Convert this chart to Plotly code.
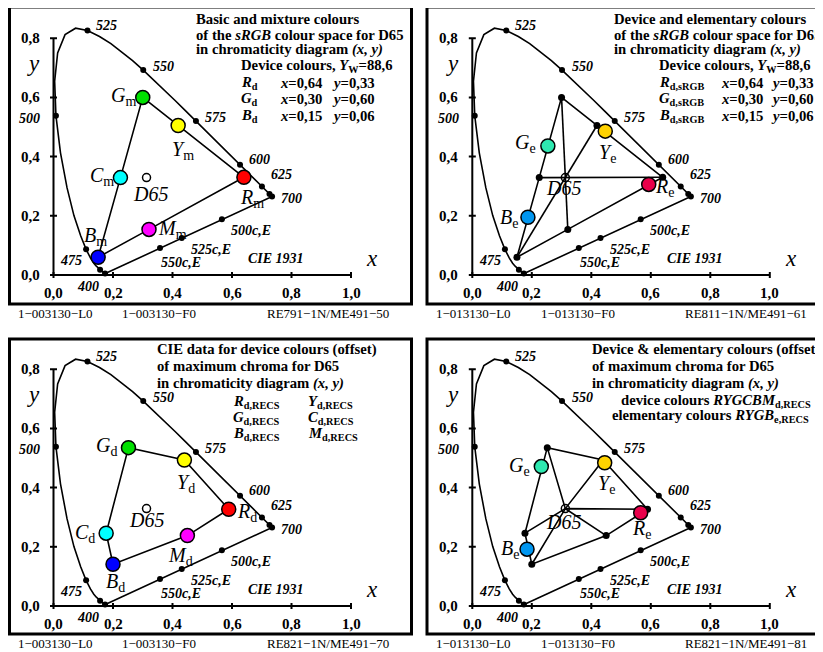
import plotly.graph_objects as go

# The page body has an 8px default margin, so the figure is offset on screen.
OFF = 8
WS, HS = 823, 652                 # screen size
W, H = WS - OFF, HS - OFF         # figure size
SX, SY = 297.5, 296.0
FONT = "Liberation Serif"
TS = 14.7                          # title text size

# ---------------- data ----------------
wavelengths = [380, 385, 390, 395, 400, 405, 410, 415, 420, 425, 430, 435, 440, 445, 450,
               455, 460, 465, 470, 475, 480, 485, 490, 495, 500, 505, 510, 515, 520, 525,
               530, 535, 540, 545, 550, 555, 560, 565, 570, 575, 580, 585, 590, 595, 600,
               605, 610, 615, 620, 625, 630, 635, 640, 645, 650, 655, 660, 665, 670, 675,
               680, 685, 690, 695, 700]
locus_x = [0.1741, 0.1740, 0.1738, 0.1736, 0.1733, 0.1730, 0.1726, 0.1721, 0.1714, 0.1703,
           0.1689, 0.1669, 0.1644, 0.1611, 0.1566, 0.1510, 0.1440, 0.1355, 0.1241, 0.1096,
           0.0913, 0.0687, 0.0454, 0.0235, 0.0082, 0.0039, 0.0139, 0.0389, 0.0743, 0.1142,
           0.1547, 0.1929, 0.2296, 0.2658, 0.3016, 0.3373, 0.3731, 0.4087, 0.4441, 0.4788,
           0.5125, 0.5448, 0.5752, 0.6029, 0.6270, 0.6482, 0.6658, 0.6801, 0.6915, 0.7006,
           0.7079, 0.7140, 0.7190, 0.7230, 0.7260, 0.7283, 0.7300, 0.7311, 0.7320, 0.7327,
           0.7334, 0.7340, 0.7344, 0.7346, 0.7347]
locus_y = [0.0050, 0.0050, 0.0049, 0.0049, 0.0048, 0.0048, 0.0048, 0.0048, 0.0051, 0.0058,
           0.0069, 0.0086, 0.0109, 0.0138, 0.0177, 0.0227, 0.0297, 0.0399, 0.0578, 0.0868,
           0.1327, 0.2007, 0.2950, 0.4127, 0.5384, 0.6548, 0.7502, 0.8120, 0.8338, 0.8262,
           0.8059, 0.7816, 0.7543, 0.7243, 0.6923, 0.6589, 0.6245, 0.5896, 0.5547, 0.5202,
           0.4866, 0.4544, 0.4242, 0.3965, 0.3725, 0.3514, 0.3340, 0.3197, 0.3083, 0.2993,
           0.2920, 0.2859, 0.2809, 0.2770, 0.2740, 0.2717, 0.2700, 0.2689, 0.2680, 0.2673,
           0.2666, 0.2660, 0.2656, 0.2654, 0.2653]
dot_wl = [400, 450, 475, 500, 525, 550, 575, 600, 625, 650, 700]
label_wl = [525, 550, 575, 600, 625, 700, 500, 475, 400]

compl_labels = ["500c,E", "525c,E", "550c,E"]
compl_x = [0.566, 0.431, 0.358]
compl_y = [0.188, 0.125, 0.091]

x_ticks = [0.0, 0.2, 0.4, 0.6, 0.8, 1.0]
x_tick_text = ["0,0", "0,2", "0,4", "0,6", "0,8", "1,0"]
y_ticks = [0.0, 0.2, 0.4, 0.6, 0.8]
y_tick_text = ["0,0", "0,2", "0,4", "0,6", "0,8"]

d65_x, d65_y = 0.3127, 0.3290

# order: R, Y, G, C, B, M
hue_names = ["R", "Y", "G", "C", "B", "M"]
srgb_x = [0.640, 0.419, 0.300, 0.225, 0.150, 0.321]
srgb_y = [0.330, 0.505, 0.600, 0.329, 0.060, 0.154]
recs_x = [0.589, 0.440, 0.252, 0.177, 0.200, 0.450]
recs_y = [0.327, 0.493, 0.535, 0.246, 0.141, 0.238]
device_colors = ["#ff0000", "#ffff00", "#00e000", "#00ffff", "#0000ff", "#ff00ff"]

# elementary: R, Y, G, B
elem_names = ["R", "Y", "G", "B"]
elem_srgb_x = [0.593, 0.447, 0.254, 0.187]
elem_srgb_y = [0.306, 0.486, 0.436, 0.195]
elem_recs_x = [0.566, 0.445, 0.232, 0.184]
elem_recs_y = [0.315, 0.484, 0.471, 0.192]
elem_colors = ["#e8004a", "#ffd200", "#2ee8b0", "#0096f0"]

footers = [["1\u2212003130\u2212L0", "1\u2212003130\u2212F0", "RE791\u22121N/ME491\u221250"],
           ["1\u2212013130\u2212L0", "1\u2212013130\u2212F0", "RE811\u22121N/ME491\u221261"],
           ["1\u2212003130\u2212L0", "1\u2212003130\u2212F0", "RE821\u22121N/ME491\u221270"],
           ["1\u2212013130\u2212L0", "1\u2212013130\u2212F0", "RE821\u22121N/ME491\u221281"]]

# ---------------- layout geometry (screen pixels) ----------------
panels = [
    dict(ox=53.5, oy=275.0, L=OFF, R=411.5, T=OFF, B=326, fx0=9.5, fy0=7, fy1=304, fx1=411.5),
    dict(ox=472.3, oy=275.0, L=411.5, R=WS, T=OFF, B=326, fx0=427, fy0=7, fy1=304, fx1=840),
    dict(ox=53.5, oy=606.0, L=OFF, R=411.5, T=326, B=HS, fx0=9.5, fy0=339, fy1=634, fx1=411.5),
    dict(ox=472.3, oy=606.0, L=411.5, R=WS, T=326, B=HS, fx0=427, fy0=339, fy1=634, fx1=840),
]
footer_y = [313, 313, 643, 643]

fig = go.Figure()
annotations = []
shapes = []


def paper(px, py):
    return (px - OFF) / W, 1 - (py - OFF) / H


def ptext(px, py, text, size=TS, anchor="left"):
    x, y = paper(px - 2, py)
    annotations.append(dict(x=x, y=y, xref="paper", yref="paper", text=text, showarrow=False,
                            xanchor=anchor, yanchor="middle",
                            font=dict(family=FONT, size=size, color="black")))


def dtext(ax, x, y, text, size=14, anchor="center", xs=0, ys=0):
    annotations.append(dict(x=x, y=y, xref="x" + ax, yref="y" + ax, text=text, showarrow=False,
                            xanchor=anchor, yanchor="middle", xshift=xs, yshift=ys,
                            font=dict(family=FONT, size=size, color="black")))


def line_trace(ax, xs, ys, width=1.6):
    fig.add_trace(go.Scatter(x=xs, y=ys, mode="lines", xaxis="x" + ax, yaxis="y" + ax,
                             line=dict(color="black", width=width), hoverinfo="skip",
                             showlegend=False, cliponaxis=False))


def dots(ax, xs, ys, size=6):
    fig.add_trace(go.Scatter(x=xs, y=ys, mode="markers", xaxis="x" + ax, yaxis="y" + ax,
                             marker=dict(color="black", size=size), hoverinfo="skip",
                             showlegend=False, cliponaxis=False))


def circles(ax, xs, ys, colors, size=14):
    fig.add_trace(go.Scatter(x=xs, y=ys, mode="markers", xaxis="x" + ax, yaxis="y" + ax,
                             marker=dict(color=colors, size=size, line=dict(color="black", width=1.5)),
                             hoverinfo="skip", showlegend=False, cliponaxis=False))


def d65_marker(ax):
    fig.add_trace(go.Scatter(x=[d65_x], y=[d65_y], mode="markers", xaxis="x" + ax, yaxis="y" + ax,
                             marker=dict(symbol="circle-open", color="black", size=8,
                                         line=dict(color="black", width=1.5)),
                             hoverinfo="skip", showlegend=False, cliponaxis=False))


wl_offsets = {525: (7, 5, "left"), 550: (8, 4, "left"), 575: (7, 4, "left"), 600: (7, 5, "left"),
              625: (7, 12, "left"), 700: (7, -2, "left"), 500: (-14, -3, "right"),
              475: (-2, -11, "right"), 400: (-4, -13, "right")}
compl_offsets = [(7, -11), (7, -11), (-1, -14)]


def base_panel(i):
    ax = "" if i == 0 else str(i + 1)
    p = panels[i]
    x0, y0 = paper(p["fx0"], p["fy0"])
    x1, y1 = paper(p["fx1"], p["fy1"])
    shapes.append(dict(type="rect", xref="paper", yref="paper", x0=x0, y0=y1, x1=x1, y1=y0,
                       line=dict(color="black", width=3), fillcolor="rgba(0,0,0,0)"))
    line_trace(ax, [x_ticks[0], x_ticks[-1]], [0, 0], width=2)
    line_trace(ax, [0, 0], [y_ticks[0], y_ticks[-1]], width=2)
    tx, ty = [], []
    for t in x_ticks:
        tx += [t, t, None]
        ty += [-3 / SY, 3 / SY, None]
    for t in y_ticks:
        tx += [-3.5 / SX, 3.5 / SX, None]
        ty += [t, t, None]
    line_trace(ax, tx, ty, width=2)
    for t, s in zip(x_ticks, x_tick_text):
        dtext(ax, t, 0, "<b>" + s + "</b>", size=15, ys=-18)
    for t, s in zip(y_ticks, y_tick_text):
        dtext(ax, 0, t, "<b>" + s + "</b>", size=15, anchor="right", xs=-12)
    line_trace(ax, locus_x + [locus_x[0]], locus_y + [locus_y[0]], width=1.6)
    dots(ax, [locus_x[wavelengths.index(w)] for w in dot_wl],
         [locus_y[wavelengths.index(w)] for w in dot_wl], size=6)
    dots(ax, compl_x, compl_y, size=6)
    for w in label_wl:
        k = wavelengths.index(w)
        xs, ys, an = wl_offsets[w]
        dtext(ax, locus_x[k], locus_y[k], "<b><i>%d</i></b>" % w, size=14, anchor=an, xs=xs, ys=ys)
    for s, cx, cy, (xs, ys) in zip(compl_labels, compl_x, compl_y, compl_offsets):
        dtext(ax, cx, cy, "<b><i>" + s + "</i></b>", size=14, anchor="left", xs=xs, ys=ys)
    dtext(ax, 0.648, 0.057, "<b><i>CIE 1931</i></b>", size=14, anchor="left")
    dtext(ax, 1.07, 0.057, "<i>x</i>", size=23)
    dtext(ax, -0.066, 0.716, "<i>y</i>", size=23)
    fx = [18, 122, 267] if i in (0, 2) else [436, 541, 685]
    for s, px in zip(footers[i], fx):
        ptext(px, footer_y[i], s, size=13)
    return ax


def hexagon(xs, ys):
    return xs + [xs[0]], ys + [ys[0]]


def diagonals(xs, ys):
    # G-D65-M, Y-D65-B, C-D65-R
    lx, ly = [], []
    for a, b in [(2, 5), (1, 4), (3, 0)]:
        lx += [xs[a], d65_x, xs[b], None]
        ly += [ys[a], d65_y, ys[b], None]
    return lx, ly


def lab(ax, x, y, letter, sub, xs, ys):
    dtext(ax, x, y, "<i>%s</i><sub>%s</sub>" % (letter, sub), size=20, xs=xs, ys=ys)


rows = [("R", "0,64", "0,33", 83), ("G", "0,30", "0,60", 99), ("B", "0,15", "0,06", 116)]

# ---- panel 1
ax = base_panel(0)
hx, hy = hexagon(srgb_x, srgb_y)
line_trace(ax, hx, hy)
d65_marker(ax)
circles(ax, srgb_x, srgb_y, device_colors)
off1 = [(8, -21), (5, -25), (-19, 1), (-18, 1), (-3, 21), (23, 0)]
for n, x, y, (xs, ys) in zip(hue_names, srgb_x, srgb_y, off1):
    lab(ax, x, y, n, "m", xs, ys)
dtext(ax, d65_x, d65_y, "<i>D65</i>", size=20, xs=4, ys=-16)
ptext(196, 19, "<b>Basic and mixture colours</b>")
ptext(196, 35, "<b>of the <i>sRGB</i> colour space for D65</b>")
ptext(196, 50, "<b>in chromaticity diagram <i>(x, y)</i></b>")
ptext(241, 66, "<b>Device colours, <i>Y</i><sub>W</sub>=88,6</b>")
for n, vx, vy, py in rows:
    ptext(241, py, "<b><i>%s</i><sub>d</sub></b>" % n)
    ptext(280, py, "<b><i>x</i>=%s</b>" % vx)
    ptext(332, py, "<b><i>y</i>=%s</b>" % vy)

# ---- panel 2
ax = base_panel(1)
hx, hy = hexagon(srgb_x, srgb_y)
line_trace(ax, hx, hy)
lx, ly = diagonals(srgb_x, srgb_y)
line_trace(ax, lx, ly)
dots(ax, srgb_x, srgb_y, size=7)
d65_marker(ax)
circles(ax, elem_srgb_x, elem_srgb_y, elem_colors, size=14)
off2 = [(16, -3), (2, -22), (-22, 2), (-19, -1)]
for n, x, y, (xs, ys) in zip(elem_names, elem_srgb_x, elem_srgb_y, off2):
    lab(ax, x, y, n, "e", xs, ys)
dtext(ax, d65_x, d65_y, "<i>D65</i>", size=20, xs=-2, ys=-10)
ptext(614, 19, "<b>Device and elementary colours</b>")
ptext(614, 35, "<b>of the <i>sRGB</i> colour space for D65</b>")
ptext(614, 50, "<b>in chromaticity diagram <i>(x, y)</i></b>")
ptext(659, 66, "<b>Device colours, <i>Y</i><sub>W</sub>=88,6</b>")
for n, vx, vy, py in rows:
    ptext(659, py, "<b><i>%s</i><sub>d,sRGB</sub></b>" % n)
    ptext(721, py, "<b><i>x</i>=%s</b>" % vx)
    ptext(771, py, "<b><i>y</i>=%s</b>" % vy)

# ---- panel 3
ax = base_panel(2)
hx, hy = hexagon(recs_x, recs_y)
line_trace(ax, hx, hy)
d65_marker(ax)
circles(ax, recs_x, recs_y, device_colors)
off3 = [(18, -3), (2, -23), (-22, 1), (-21, 0), (2, -18), (-7, -21)]
for n, x, y, (xs, ys) in zip(hue_names, recs_x, recs_y, off3):
    lab(ax, x, y, n, "d", xs, ys)
dtext(ax, d65_x, d65_y, "<i>D65</i>", size=20, xs=0, ys=-11)
ptext(157, 350, "<b>CIE data for device colours (offset)</b>")
ptext(157, 366, "<b>of maximum chroma for D65</b>")
ptext(157, 383, "<b>in chromaticity diagram <i>(x, y)</i></b>")
for k, (a, b) in enumerate([("R", "Y"), ("G", "C"), ("B", "M")]):
    py = 402 + 16 * k
    ptext(233, py, "<b><i>%s</i><sub>d,RECS</sub></b>" % a)
    ptext(308, py, "<b><i>%s</i><sub>d,RECS</sub></b>" % b)

# ---- panel 4
ax = base_panel(3)
hx, hy = hexagon(recs_x, recs_y)
line_trace(ax, hx, hy)
lx, ly = diagonals(recs_x, recs_y)
line_trace(ax, lx, ly)
dots(ax, recs_x, recs_y, size=7)
d65_marker(ax)
circles(ax, elem_recs_x, elem_recs_y, elem_colors, size=14)
off4 = [(1, -17), (2, -22), (-22, 0), (-17, 0)]
for n, x, y, (xs, ys) in zip(elem_names, elem_recs_x, elem_recs_y, off4):
    lab(ax, x, y, n, "e", xs, ys)
dtext(ax, d65_x, d65_y, "<i>D65</i>", size=20, xs=-2, ys=-13)
ptext(592, 349, "<b>Device &amp; elementary colours (offset)</b>")
ptext(592, 366, "<b>of maximum chroma for D65</b>")
ptext(592, 383, "<b>in chromaticity diagram <i>(x, y)</i></b>")
ptext(621, 401, "<b>device colours <i>RYGCBM</i><sub>d,RECS</sub></b>")
ptext(612, 416, "<b>elementary colours <i>RYGB</i><sub>e,RECS</sub></b>")

# ---------------- axes ----------------
layout_axes = {}
for i, p in enumerate(panels):
    suffix = "" if i == 0 else str(i + 1)
    oxf, oyf = p["ox"] - OFF, p["oy"] - OFF
    Lf, Rf, Tf, Bf = p["L"] - OFF, p["R"] - OFF, p["T"] - OFF, p["B"] - OFF
    xr = [(Lf - oxf) / SX, (Rf - oxf) / SX]
    yr = [(oyf - Bf) / SY, (oyf - Tf) / SY]
    layout_axes["xaxis" + suffix] = dict(domain=[Lf / W, Rf / W], range=xr, visible=False,
                                         fixedrange=True, anchor="y" + suffix)
    layout_axes["yaxis" + suffix] = dict(domain=[1 - Bf / H, 1 - Tf / H], range=yr, visible=False,
                                         fixedrange=True, anchor="x" + suffix)

fig.update_layout(width=W, height=H, margin=dict(l=0, r=0, t=0, b=0),
                  paper_bgcolor="white", plot_bgcolor="white", showlegend=False,
                  annotations=annotations, shapes=shapes, **layout_axes)

fig.write_html("out.html")
